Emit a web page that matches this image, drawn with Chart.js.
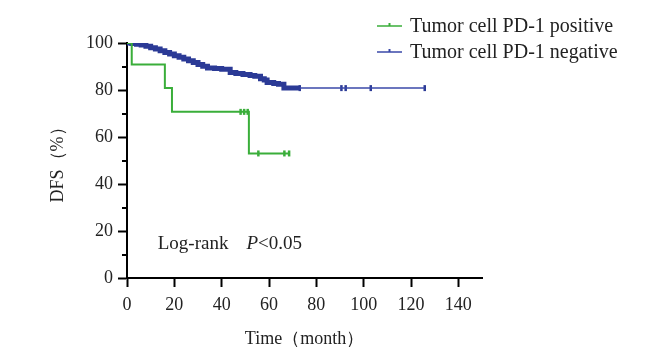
<!DOCTYPE html>
<html><head><meta charset="utf-8">
<script src="https://cdn.jsdelivr.net/npm/chart.js@4.4.0/dist/chart.umd.min.js"></script>
<style>html,body{margin:0;padding:0;background:#fff;}</style>
</head><body>
<canvas id="c" width="662" height="360"></canvas>
<script>
const seriesNames = ['Tumor cell PD-1 positive', 'Tumor cell PD-1 negative'];
const seriesColors = ['#3aae3a', '#2b3a96'];
const xTitle = 'Time\uFF08month\uFF09';
const yTitle = 'DFS\uFF08%\uFF09';
const xTickValues = [0, 20, 40, 60, 80, 100, 120, 140];
const yTickValues = [0, 20, 40, 60, 80, 100];

const posTime = [0, 2, 16, 19, 51.5, 68.5];
const posSurv = [100, 90.9, 80.8, 70.7, 53.0, 53.0];
const posCensorTime = [48, 49.5, 51, 55.5, 66.5, 68.5];
const posCensorSurv = [70.7, 70.7, 70.7, 53.0, 53.0, 53.0];

const negTime = [0, 2, 4, 6, 8, 10, 12, 14, 16, 18, 20, 22, 24, 26, 28, 30, 32, 34, 37, 40, 43.6, 46, 49, 52, 54, 56.4, 58, 59.2, 62, 64, 66.3, 73, 125.8];
const negSurv = [100, 99.8, 99.5, 99.1, 98.6, 98.0, 97.4, 96.7, 96.0, 95.3, 94.6, 93.9, 93.2, 92.5, 91.7, 90.9, 90.1, 89.4, 89.1, 88.8, 87.4, 87.0, 86.6, 86.2, 85.8, 84.8, 84.3, 83.2, 82.8, 82.4, 80.8, 80.8, 80.8];
const negCensorTime = [73, 90.6, 92.4, 103, 125.8];
const negCensorSurv = [80.8, 80.8, 80.8, 80.8, 80.8];

const annotation = { x: 13, y: 14.5, label: 'Log-rank', pLabel: 'P', pValue: '<0.05' };

const FONT = "'Liberation Serif', 'DejaVu Serif', serif";
const toPts = (xs, ys) => xs.map((x, i) => ({ x: x, y: ys[i] }));

const minorTicks = {
  id: 'minorTicks',
  afterDraw(chart) {
    const c = chart.ctx, y = chart.scales.y, a = chart.chartArea;
    c.save();
    c.strokeStyle = '#000'; c.lineWidth = 2;
    for (let v = 10; v < 100; v += 20) {
      const py = Math.round(y.getPixelForValue(v));
      c.beginPath(); c.moveTo(a.left - 5, py); c.lineTo(a.left, py); c.stroke();
    }
    c.restore();
  }
};

const customLegend = {
  id: 'customLegend',
  afterDraw(chart) {
    const c = chart.ctx;
    c.save();
    c.font = '20px ' + FONT;
    c.textBaseline = 'middle';
    const x0 = 377, rows = [26, 52];
    seriesNames.forEach((n, i) => {
      const yy = rows[i];
      c.strokeStyle = i === 0 ? seriesColors[0] : '#3a48a8';
      c.lineWidth = 1.5;
      c.beginPath(); c.moveTo(x0, yy); c.lineTo(x0 + 25, yy); c.stroke();
      c.lineWidth = 2;
      c.beginPath(); c.moveTo(x0 + 12.5, yy - 3); c.lineTo(x0 + 12.5, yy); c.stroke();
      c.fillStyle = '#222';
      c.fillText(n, x0 + 33, yy + 1);
    });
    c.restore();
  }
};

const annot = {
  id: 'annot',
  afterDraw(chart) {
    const c = chart.ctx;
    const px = chart.scales.x.getPixelForValue(annotation.x);
    const py = chart.scales.y.getPixelForValue(annotation.y);
    c.save();
    c.fillStyle = '#222';
    c.textBaseline = 'middle';
    c.font = '19px ' + FONT;
    c.fillText(annotation.label, px, py);
    const w = c.measureText(annotation.label).width;
    c.font = 'italic 19px ' + FONT;
    const px2 = px + w + 18;
    c.fillText(annotation.pLabel, px2, py);
    const w2 = c.measureText(annotation.pLabel).width;
    c.font = '19px ' + FONT;
    c.fillText(annotation.pValue, px2 + w2, py);
    c.restore();
  }
};

new Chart(document.getElementById('c'), {
  type: 'line',
  data: {
    datasets: [
      {
        label: seriesNames[0], data: toPts(posTime, posSurv), stepped: 'before',
        borderColor: seriesColors[0], borderWidth: 2, pointRadius: 0, fill: false
      },
      {
        label: seriesNames[1], data: toPts(negTime, negSurv), stepped: 'before',
        borderColor: seriesColors[1], borderWidth: 5, pointRadius: 0, fill: false,
        segment: {
          borderWidth: ctx => ctx.p0.parsed.x < 72.9 ? 5 : 1.5,
          borderColor: ctx => ctx.p0.parsed.x < 72.9 ? seriesColors[1] : '#3a48a8'
        }
      },
      {
        label: 'c1', data: toPts(posCensorTime, posCensorSurv), showLine: false,
        pointStyle: 'line', rotation: 90, pointRadius: 3, borderColor: seriesColors[0],
        pointBorderWidth: 2.5, borderWidth: 2.5
      },
      {
        label: 'c2', data: toPts(negCensorTime, negCensorSurv), showLine: false,
        pointStyle: 'line', rotation: 90, pointRadius: 3, borderColor: seriesColors[1],
        pointBorderWidth: 2.5, borderWidth: 2.5
      }
    ]
  },
  options: {
    responsive: false, animation: false,
    layout: { padding: { left: 45, right: 180, top: 43, bottom: 10 } },
    plugins: { legend: { display: false }, tooltip: { enabled: false } },
    scales: {
      x: {
        type: 'linear', min: 0, max: 150,
        afterBuildTicks: s => { s.ticks = xTickValues.map(v => ({ value: v })); },
        afterFit: s => { s.height = 72; },
        border: { display: true, color: '#000', width: 2 },
        grid: { drawOnChartArea: false, drawTicks: true, tickLength: 9, tickWidth: 2, tickColor: '#000' },
        ticks: { color: '#222', font: { family: FONT, size: 18 }, padding: 7, maxRotation: 0 },
        title: { display: true, text: xTitle, color: '#222', font: { family: FONT, size: 18 }, padding: { top: 2, bottom: 0 } }
      },
      y: {
        type: 'linear', min: 0, max: 100,
        afterBuildTicks: s => { s.ticks = yTickValues.map(v => ({ value: v })); },
        afterFit: s => { s.width = 82; },
        border: { display: true, color: '#000', width: 2 },
        grid: { drawOnChartArea: false, drawTicks: true, tickLength: 9, tickWidth: 2, tickColor: '#000' },
        ticks: { color: '#222', font: { family: FONT, size: 18 }, padding: 5 },
        title: { display: true, text: yTitle, color: '#222', font: { family: FONT, size: 18 }, padding: { top: 2, bottom: 0 } }
      }
    }
  },
  plugins: [minorTicks, customLegend, annot]
});
</script>
</body></html>
